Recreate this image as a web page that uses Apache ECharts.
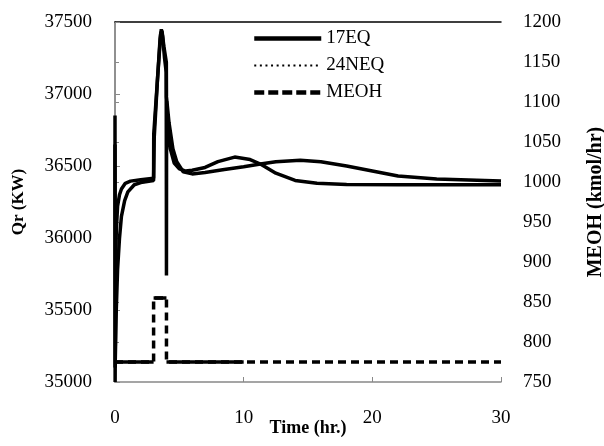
<!DOCTYPE html>
<html><head><meta charset="utf-8">
<script src="https://cdn.jsdelivr.net/npm/echarts@6/dist/echarts.min.js"></script>
<style>html,body{margin:0;padding:0;background:#fff}#c{width:604px;height:446px}</style>
</head><body><div id="c"></div>
<script>
// ---- data ----
const seriesNames = ['17EQ', '24NEQ', 'MEOH'];

const t17 = [0, 0.01, 0.05, 0.1, 0.2, 0.35, 0.5, 0.8, 1.2, 2, 3, 3.05, 3.3, 3.5, 3.6, 3.7, 3.85, 3.98, 4.0, 4.01, 4.1, 4.3, 4.6, 5, 5.5, 6, 7, 8, 9.3, 10.5, 11.3, 12.5, 14, 15.7, 18, 22, 26, 30];
const q17 = [36650, 35000, 35800, 36050, 36220, 36300, 36340, 36380, 36395, 36405, 36415, 36700, 37100, 37380, 37450, 37400, 37250, 37150, 35740, 36950, 36800, 36620, 36520, 36480, 36465, 36470, 36490, 36530, 36562, 36545, 36514, 36450, 36400, 36380, 36372, 36370, 36370, 36370];

const t24 = [0, 0.01, 0.1, 0.2, 0.35, 0.5, 0.75, 1, 1.5, 2, 3, 3.01, 3.3, 3.55, 3.65, 3.8, 3.99, 4.0, 4.2, 4.5, 4.8, 5.3, 6, 7, 8.5, 10, 11.3, 12.5, 14.4, 16, 18, 20, 22, 25, 30];
const q24 = [36850, 35100, 35500, 35780, 36000, 36150, 36260, 36320, 36370, 36385, 36400, 36720, 37100, 37420, 37440, 37330, 37220, 36980, 36800, 36620, 36530, 36460, 36445, 36455, 36475, 36495, 36514, 36530, 36540, 36530, 36500, 36465, 36430, 36410, 36395];

const tMeoh = [0, 3, 3, 4, 4, 30];
const vMeoh = [775, 775, 855, 855, 775, 775];
// densely sampled part of MEOH (appears solid in the reference)
const tMeohDense = [0, 3, 3, 3, 4, 4, 4, 10];
const vMeohDense = [775, 775, '-', 855, 855, '-', 775, 775];

const xMin = 0, xMax = 30, xStep = 10;
const qMin = 35000, qMax = 37500, qStep = 500;
const mMin = 750, mMax = 1200, mStep = 50;

const zip = (a, b) => a.map((v, i) => [v, b[i]]);

const FONT = '"Liberation Serif", "Times New Roman", serif';
const plain = v => String(v);
const chart = echarts.init(document.getElementById('c'), null, {renderer: 'canvas'});
chart.setOption({
  animation: false,
  backgroundColor: '#fff',
  textStyle: {fontFamily: FONT, color: '#000'},
  grid: {left: 115, right: 103, top: 22, bottom: 64, containLabel: false, outerBoundsMode: 'none'},
  legend: {
    orient: 'vertical', left: 247, top: 24,
    itemWidth: 67, itemHeight: 14, itemGap: 8,
    textStyle: {fontFamily: FONT, fontSize: 19, color: '#000', lineHeight: 14},
    data: [
      {name: '17EQ', itemStyle: {opacity: 0}, lineStyle: {color: '#000', width: 4.5, type: 'solid'}},
      {name: '24NEQ', itemStyle: {opacity: 0}, lineStyle: {color: '#000', width: 2.2, type: [2, 3.6], cap: 'butt'}},
      {name: 'MEOH', itemStyle: {opacity: 0}, lineStyle: {color: '#000', width: 4.5, type: [10, 4], cap: 'butt'}}
    ]
  },
  xAxis: [{
    type: 'value', min: xMin, max: xMax, interval: xStep,
    name: 'Time (hr.)', nameLocation: 'middle', nameGap: 37, nameMoveOverlap: false,
    nameTextStyle: {fontFamily: FONT, fontSize: 18, fontWeight: 'bold', color: '#000'},
    axisLine: {show: true, lineStyle: {color: '#888', width: 1.5}},
    axisTick: {show: true, inside: true, length: 5, lineStyle: {color: '#888'}},
    axisLabel: {fontFamily: FONT, fontSize: 19, color: '#000', margin: 27, formatter: plain},
    splitLine: {show: false}
  }, {
    type: 'value', min: xMin, max: xMax, position: 'top',
    axisLine: {show: true, onZero: false, lineStyle: {color: '#000', width: 1.5}},
    axisTick: {show: false}, axisLabel: {show: false}, splitLine: {show: false}
  }],
  yAxis: [{
    type: 'value', min: qMin, max: qMax, interval: qStep,
    name: 'Qr (KW)', nameLocation: 'middle', nameGap: 88, nameMoveOverlap: false,
    nameTextStyle: {fontFamily: FONT, fontSize: 17, fontWeight: 'bold', color: '#000'},
    axisLine: {show: true, lineStyle: {color: '#888', width: 1.5}},
    axisTick: {show: true, inside: true, length: 5, lineStyle: {color: '#888'}},
    axisLabel: {fontFamily: FONT, fontSize: 19, color: '#000', margin: 23, formatter: plain},
    splitLine: {show: false}
  }, {
    type: 'value', min: mMin, max: mMax, interval: mStep, position: 'right',
    name: 'MEOH (kmol/hr)', nameLocation: 'middle', nameGap: 85, nameRotate: 90, nameMoveOverlap: false,
    nameTextStyle: {fontFamily: FONT, fontSize: 20, fontWeight: 'bold', color: '#000'},
    axisLine: {show: true, lineStyle: {color: '#888', width: 1.5}},
    axisTick: {show: true, inside: false, length: 4, lineStyle: {color: '#888'}},
    axisLabel: {fontFamily: FONT, fontSize: 19, color: '#000', margin: 22, formatter: plain},
    splitLine: {show: false}
  }],
  series: [
    {name: 'MEOH', type: 'line', yAxisIndex: 1, symbol: 'none',
     lineStyle: {color: '#000', width: 3.5, type: [8, 5], cap: 'butt'},
     data: zip(tMeoh, vMeoh)},
    {name: 'MEOH', type: 'line', yAxisIndex: 1, symbol: 'none',
     lineStyle: {color: '#000', width: 3.5, type: 'solid'},
     data: zip(tMeohDense, vMeohDense)},
    {name: '17EQ', type: 'line', yAxisIndex: 0, symbol: 'none',
     lineStyle: {color: '#000', width: 3.5},
     data: zip(t17, q17)},
    {name: '24NEQ', type: 'line', yAxisIndex: 0, symbol: 'none',
     lineStyle: {color: '#000', width: 3.5},
     data: zip(t24, q24)}
  ]
});
</script></body></html>
